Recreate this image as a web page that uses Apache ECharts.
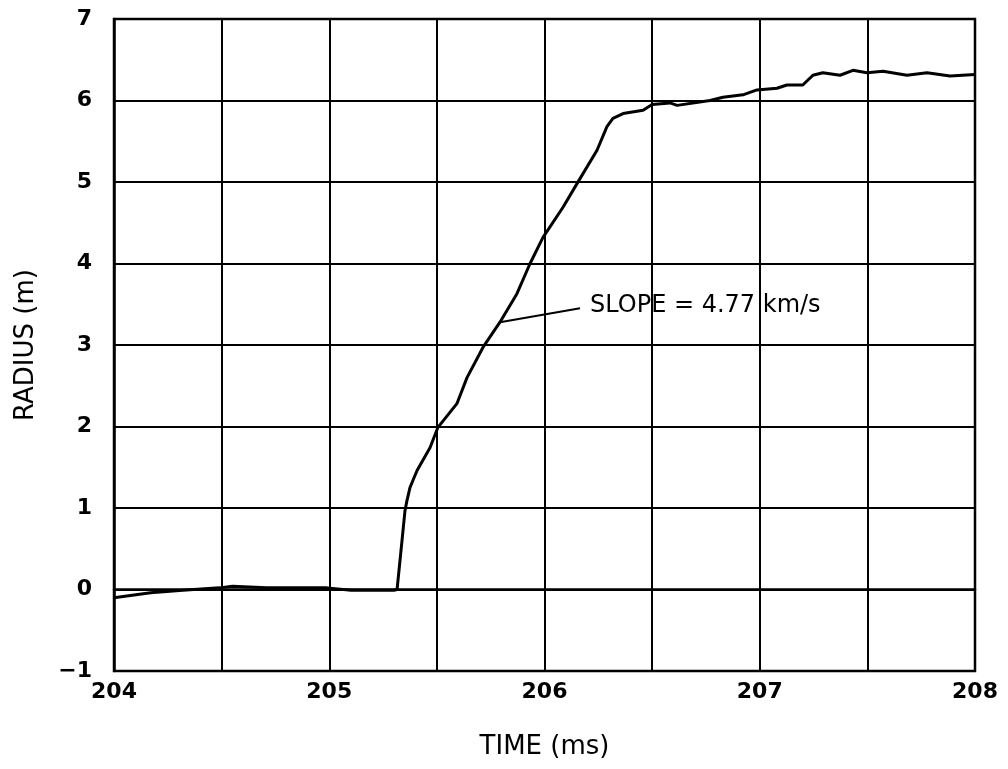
<!DOCTYPE html>
<html>
<head>
<meta charset="utf-8">
<script src="https://cdn.jsdelivr.net/npm/echarts@6/dist/echarts.min.js"></script>
<style>
  html, body { margin: 0; padding: 0; background: #fff; }
  #chart { width: 1008px; height: 769px; }
</style>
</head>
<body>
<div id="chart"></div>
<script>
// Shock radius versus time
const timeMs = [204.0, 204.17, 204.32, 204.49, 204.55, 204.71, 204.99, 205.1, 205.3, 205.315,
  205.338, 205.352, 205.361, 205.375, 205.389, 205.408, 205.468, 205.505, 205.593, 205.64,
  205.714, 205.793, 205.872, 205.933, 205.993, 206.086, 206.151, 206.244, 206.29, 206.318,
  206.365, 206.458, 206.5, 206.583, 206.616, 206.769, 206.829, 206.922, 206.987, 207.08,
  207.126, 207.2, 207.247, 207.293, 207.373, 207.433, 207.498, 207.573, 207.684, 207.777,
  207.884, 208.0];
const radiusM = [-0.1, -0.04, -0.01, 0.02, 0.04, 0.02, 0.02, -0.01, -0.01, 0,
  0.6, 0.97, 1.09, 1.25, 1.34, 1.46, 1.74, 1.99, 2.28, 2.6,
  2.97, 3.28, 3.63, 4.0, 4.32, 4.69, 4.98, 5.39, 5.68, 5.78,
  5.84, 5.88, 5.95, 5.97, 5.94, 6.0, 6.04, 6.07, 6.13, 6.15,
  6.19, 6.19, 6.31, 6.34, 6.31, 6.37, 6.34, 6.36, 6.31, 6.34,
  6.30, 6.32];

// Leader line from the curve to the slope note
const leaderTime = [205.793, 206.165];
const leaderRadius = [3.28, 3.45];
const slopeText = 'SLOPE = 4.77 km/s';

const xTickLabels = ['204', '205', '206', '207', '208'];
const yTickLabels = ['−1', '0', '1', '2', '3', '4', '5', '6', '7'];

const FONT = 'DejaVu Sans';
const chart = echarts.init(document.getElementById('chart'));

chart.setOption({
  backgroundColor: '#fff',
  animation: false,
  grid: { left: 114, right: 33, top: 19, bottom: 98, show: true, borderColor: '#000', borderWidth: 2.5 },
  xAxis: {
    type: 'value', min: 204, max: 208, interval: 0.5,
    name: 'TIME (ms)', nameLocation: 'middle', nameGap: 63,
    nameTextStyle: { fontFamily: FONT, fontSize: 26, color: '#000' },
    axisLine: { show: true, lineStyle: { color: '#000', width: 2.5 } },
    axisTick: { show: false },
    axisLabel: {
      margin: 10, fontFamily: FONT, fontSize: 22, fontWeight: 'bold', color: '#000',
      formatter: v => Number.isInteger(v) ? xTickLabels[v - 204] : ''
    },
    splitLine: { show: true, lineStyle: { color: '#000', width: 2 } }
  },
  yAxis: {
    type: 'value', min: -1, max: 7, interval: 1,
    name: 'RADIUS (m)', nameLocation: 'middle', nameGap: 75, nameRotate: 90,
    nameTextStyle: { fontFamily: FONT, fontSize: 26, color: '#000' },
    axisLine: { show: true, lineStyle: { color: '#000', width: 2.5 } },
    axisTick: { show: false },
    axisLabel: {
      margin: 22, fontFamily: FONT, fontSize: 22, fontWeight: 'bold', color: '#000',
      formatter: v => yTickLabels[v + 1]
    },
    splitLine: { show: true, lineStyle: { color: '#000', width: 2 } }
  },
  series: [
    {
      type: 'line',
      data: timeMs.map((t, i) => [t, radiusM[i]]),
      showSymbol: false,
      lineStyle: { color: '#000', width: 3 },
      z: 3
    },
    {
      type: 'line',
      data: leaderTime.map((t, i) => [t, leaderRadius[i]]),
      showSymbol: false,
      symbol: 'none',
      lineStyle: { color: '#000', width: 2 },
      endLabel: {
        show: true,
        formatter: slopeText,
        fontFamily: FONT, fontSize: 24, color: '#000',
        distance: 10, offset: [0, -3]
      },
      z: 3
    }
  ]
});
</script>
</body>
</html>
